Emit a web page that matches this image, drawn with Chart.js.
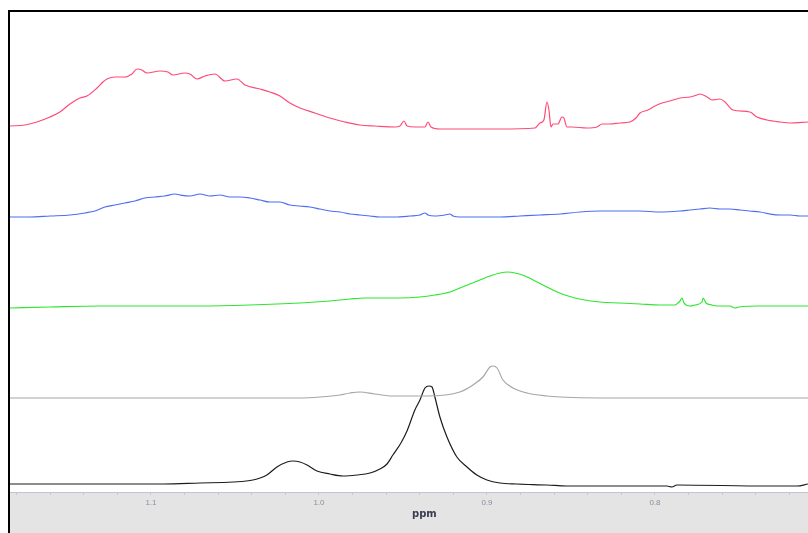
<!DOCTYPE html>
<html lang="en">
<head>
  <meta charset="UTF-8" />
  <title>Stacked NMR spectra</title>
  <script src="https://cdn.jsdelivr.net/npm/chart.js"></script>
  <style>
    html, body { margin: 0; padding: 0; background: #fff; }
    #wrap { width: 808px; height: 533px; }
  </style>
</head>
<body>
<div id="wrap"><canvas id="nmr" width="808" height="533"></canvas></div>

<script>
  // chemical shift axis (ppm), reversed like a normal NMR plot
  const ppmMin = 0.7089;
  const ppmMax = 1.1839;
  const tickValues = [1.18, 1.16, 1.14, 1.12, 1.10, 1.08, 1.06, 1.04, 1.02, 1.00, 0.98, 0.96, 0.94, 0.92, 0.90, 0.88, 0.86, 0.84, 0.82, 0.80, 0.78, 0.76, 0.74, 0.72];
  const tickLabels = ['1.1', '1.0', '0.9', '0.8'];

  // trace 1 (top, red)
  const redX = [1.1839, 1.175, 1.1679, 1.1601, 1.1542, 1.1482, 1.1423, 1.1381, 1.1321, 1.1286, 1.1262, 1.1214, 1.1155, 1.1113, 1.1083, 1.1054, 1.1024, 1.0946, 1.0899, 1.0869, 1.0798, 1.0768, 1.0726, 1.0679, 1.0619, 1.0560, 1.0488, 1.0440, 1.0351, 1.0292, 1.0232, 1.0173, 1.0113, 1.0024, 0.9935, 0.9845, 0.9756, 0.9667, 0.9548, 0.9518, 0.9494, 0.9476, 0.9429, 0.9369, 0.9351, 0.9333, 0.9280, 0.9101, 0.8923, 0.8714, 0.8685, 0.8661, 0.8643, 0.8631, 0.8619, 0.8607, 0.8577, 0.8554, 0.8542, 0.8524, 0.8494, 0.8405, 0.8345, 0.8315, 0.8268, 0.8208, 0.8149, 0.8113, 0.8089, 0.8042, 0.8000, 0.7958, 0.7911, 0.7851, 0.7792, 0.7750, 0.7732, 0.7690, 0.7661, 0.7613, 0.7583, 0.7536, 0.7435, 0.7393, 0.7333, 0.7256, 0.7196, 0.7089];
  const redY = [1, 2, 5, 10, 15, 23, 29, 31, 39, 45, 48, 50, 50, 53, 58, 57, 54, 56, 55, 52, 54, 53, 48, 51, 53, 46, 48, 42, 38, 35, 31, 24, 19, 14, 9, 5, 2, 1, 0, 1, 6, 1, 0, 0, 5, 0, -2, -2, -2, -1, 4, 7, 25, 17, 0, 3, 3, 10, 9, 0, 0, -1, 0, 3, 3, 4, 5, 9, 14, 17, 21, 24, 26, 29, 30, 32, 33, 30, 27, 28, 25, 17, 15, 10, 7, 5, 4, 5];

  // trace 2 (blue)
  const blueX = [1.1839, 1.1720, 1.1601, 1.1482, 1.1393, 1.1333, 1.1274, 1.1214, 1.1155, 1.1095, 1.1036, 1.0976, 1.0917, 1.0857, 1.0827, 1.0768, 1.0708, 1.0649, 1.0589, 1.0530, 1.0470, 1.0411, 1.0351, 1.0292, 1.0232, 1.0173, 1.0113, 1.0054, 0.9994, 0.9935, 0.9875, 0.9815, 0.9756, 0.9696, 0.9637, 0.9548, 0.9458, 0.9399, 0.9369, 0.9351, 0.9310, 0.9250, 0.9220, 0.9202, 0.9161, 0.9042, 0.8923, 0.8804, 0.8685, 0.8565, 0.8446, 0.8327, 0.8208, 0.8089, 0.7970, 0.7851, 0.7792, 0.7732, 0.7673, 0.7613, 0.7554, 0.7494, 0.7435, 0.7375, 0.7315, 0.7256, 0.7196, 0.7137, 0.7089];
  const blueY = [0, 0, 1, 2, 4, 6, 10, 12, 14, 16, 19, 20, 21, 23, 22, 21, 23, 21, 22, 20, 20, 19, 17, 15, 15, 12, 11, 10, 8, 6, 5, 3, 2, 1, 0, 0, 1, 2, 4, 2, 1, 2, 3, 1, 0, 0, 0, 1, 2, 3, 5, 6, 6, 6, 5, 6, 7, 8, 9, 8, 8, 7, 6, 5, 3, 2, 2, 1, 1];

  // trace 3 (green)
  const greenX = [1.1839, 1.1601, 1.1304, 1.1006, 1.0708, 1.0411, 1.0113, 0.9935, 0.9815, 0.9726, 0.9637, 0.9518, 0.9399, 0.9310, 0.9220, 0.9161, 0.9101, 0.9042, 0.8982, 0.8923, 0.8875, 0.8833, 0.8774, 0.8714, 0.8655, 0.8595, 0.8536, 0.8476, 0.8417, 0.8327, 0.8208, 0.8089, 0.7970, 0.7881, 0.7863, 0.7851, 0.7839, 0.7827, 0.7792, 0.7762, 0.7720, 0.7714, 0.7696, 0.7661, 0.7631, 0.7554, 0.7524, 0.7500, 0.7375, 0.7196, 0.7089];
  const greenY = [0, 1, 2, 2, 2, 3, 5, 7, 9, 10, 10, 10, 11, 13, 16, 20, 24, 28, 32, 35, 36, 35, 32, 27, 22, 17, 13, 10, 8, 6, 5, 4, 3, 3, 5, 7, 10, 5, 2, 3, 6, 10, 5, 3, 2, 2, 0, 1, 2, 2, 2];

  // trace 4 (grey)
  const greyX = [1.1839, 1.0708, 1.0113, 0.9994, 0.9875, 0.9815, 0.9756, 0.9667, 0.9560, 0.9357, 0.9161, 0.9083, 0.9024, 0.8982, 0.8964, 0.8940, 0.8905, 0.8845, 0.8762, 0.8643, 0.8565, 0.8327, 0.7732, 0.7089];
  const greyY = [0, 0, 0, 1, 3, 5, 6, 4, 2, 2, 6, 13, 21, 31, 32, 30, 18, 10, 5, 2, 1, 0, 0, 0];

  // trace 5 (bottom, black)
  const blackX = [1.1839, 1.0929, 1.0708, 1.0512, 1.0393, 1.0310, 1.0250, 1.0190, 1.0155, 1.0113, 1.0071, 1.0012, 0.9935, 0.9857, 0.9774, 0.9696, 0.9637, 0.9595, 0.9560, 0.9512, 0.9476, 0.9429, 0.9399, 0.9369, 0.9345, 0.9327, 0.9310, 0.9280, 0.9238, 0.9179, 0.9119, 0.9060, 0.9000, 0.8923, 0.8821, 0.8643, 0.8524, 0.7929, 0.7899, 0.7869, 0.7333, 0.7155, 0.7089];
  const blackY = [1, 1, 2, 3, 5, 10, 18, 23, 24, 23, 20, 14, 11, 9, 10, 12, 16, 21, 30, 42, 54, 75, 85, 97, 99, 98, 88, 68, 48, 28, 18, 10, 5, 2, 1, 0, -1, -1, -2, 0, -1, -1, 1];

  function trace(xs, ys, offset, color) {
    return {
      data: xs.map((x, i) => ({ x: x, y: ys[i] + offset })),
      borderColor: color,
      borderWidth: 1.2,
      pointRadius: 0,
      cubicInterpolationMode: 'monotone',
      fill: false
    };
  }

  // frame, grey axis band and the "ppm" label
  const framePlugin = {
    id: 'frame',
    beforeDraw(chart) {
      const ctx = chart.ctx;
      ctx.save();
      ctx.fillStyle = '#e4e4e4';
      ctx.fillRect(10, chart.chartArea.bottom, 798, 533 - chart.chartArea.bottom);
      ctx.restore();
    },
    afterDraw(chart) {
      const ctx = chart.ctx;
      ctx.save();
      ctx.fillStyle = '#000';
      ctx.fillRect(8, 10, 2, 523);
      ctx.fillRect(8, 10, 800, 2);
      ctx.fillStyle = '#3a3d4e';
      ctx.font = 'bold 10px "DejaVu Sans"';
      ctx.textBaseline = 'middle';
      ctx.textAlign = 'left';
      ctx.fillText('ppm', 412, 514);
      ctx.restore();
    }
  };

  new Chart(document.getElementById('nmr'), {
    type: 'line',
    data: {
      datasets: [
        trace(redX, redY, 365, '#ff4a78'),
        trace(blueX, blueY, 275, '#4d6ef2'),
        trace(greenX, greenY, 184, '#2fe62f'),
        trace(greyX, greyY, 94, '#a6a6a6'),
        trace(blackX, blackY, 7, '#1c1c1c')
      ]
    },
    options: {
      responsive: false,
      animation: false,
      layout: { padding: { left: 10, top: 11, right: 0, bottom: 0 } },
      plugins: { legend: { display: false }, tooltip: { enabled: false } },
      scales: {
        x: {
          type: 'linear',
          reverse: true,
          min: ppmMin,
          max: ppmMax,
          afterBuildTicks: (scale) => {
            scale.ticks = tickValues.map(v => ({ value: v }));
          },
          afterFit: (scale) => { scale.height = 41; },
          grid: {
            drawOnChartArea: false,
            drawTicks: true,
            tickLength: 3,
            color: '#c4c6d2'
          },
          border: { color: '#c0c3d0', width: 1 },
          ticks: {
            autoSkip: false,
            maxRotation: 0,
            padding: 3,
            color: '#8a8ea0',
            font: { family: '"Liberation Sans", Arial, sans-serif', size: 8 },
            callback: (v) => {
              const s = v.toFixed(1);
              return (Math.abs(v * 10 - Math.round(v * 10)) < 1e-6 && tickLabels.includes(s)) ? s : '';
            }
          }
        },
        y: {
          display: false,
          min: 0,
          max: 481
        }
      }
    },
    plugins: [framePlugin]
  });
</script>
</body>
</html>
